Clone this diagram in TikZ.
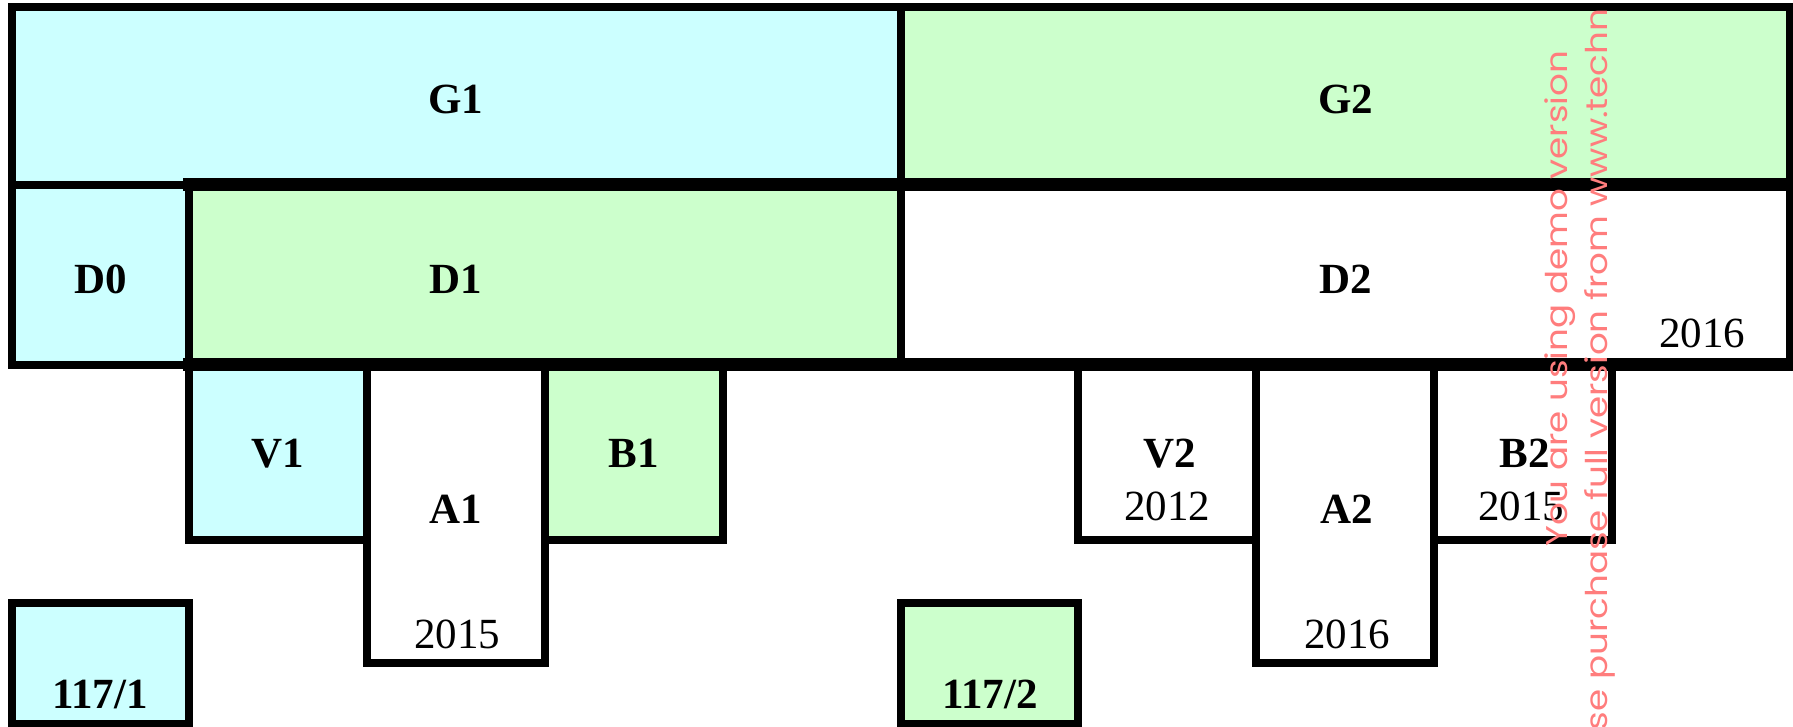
\documentclass[tikz,border=0pt]{standalone}
\usepackage{fontspec}
\setmainfont{Liberation Serif}
\newfontfamily\wmfont{Poppins}
\definecolor{cyanbox}{RGB}{204,255,255}
\definecolor{greenbox}{RGB}{204,255,204}
\definecolor{wmred}{RGB}{255,125,125}
\newcommand\wmstretch[1]{\scalebox{1.19}[1]{#1}}
\begin{document}
\begin{tikzpicture}[x=1pt,y=-1pt,
  box/.style={draw=black, line width=8pt, rectangle, inner sep=0pt, outer sep=0pt},
  lbl/.style={font=\fontsize{43}{50}\selectfont\bfseries, inner sep=0pt, anchor=base},
  yr/.style={font=\fontsize{43}{50}\selectfont, inner sep=0pt, anchor=base},
  wm/.style={font=\wmfont\fontsize{30}{36}\selectfont, text=wmred, rotate=90, anchor=base west, inner sep=0pt},
  seam/.style={line width=13pt, line cap=rect}]
\useasboundingbox (0,0) rectangle (1793,726);
% top row
\node[box, fill=cyanbox,  minimum width=889pt, minimum height=177.5pt] (G1) at (456,95.75) {};
\node[box, fill=greenbox, minimum width=889pt, minimum height=177.5pt] (G2) at (1345,95.75) {};
% second row
\node[box, fill=cyanbox,  minimum width=177.5pt, minimum height=180pt] (D0) at (100.25,274.5) {};
\node[box, fill=greenbox, minimum width=711.5pt, minimum height=180pt] (D1) at (544.75,274.5) {};
\node[box, fill=white,    minimum width=889pt,   minimum height=180pt] (D2) at (1345,274.5) {};
% third row
\node[box, fill=cyanbox,  minimum width=178pt,   minimum height=175.5pt] (V1) at (278,452.25) {};
\node[box, fill=white,    minimum width=178pt,   minimum height=298pt]   (A1) at (456,513.5) {};
\node[box, fill=greenbox, minimum width=177.5pt, minimum height=175.5pt] (B1) at (633.75,452.25) {};
\node[box, fill=white,    minimum width=178pt,   minimum height=175.5pt] (V2) at (1167,452.25) {};
\node[box, fill=white,    minimum width=178pt,   minimum height=298pt]   (A2) at (1345,513.5) {};
\node[box, fill=white,    minimum width=178pt,   minimum height=175.5pt] (B2) at (1523,452.25) {};
% bottom boxes
\node[box, fill=cyanbox,  minimum width=177.5pt, minimum height=121pt] (P1) at (100.25,663.5) {};
\node[box, fill=greenbox, minimum width=177.5pt, minimum height=121pt] (P2) at (989.25,663.5) {};
% heavier seams
\draw[seam] (D1.north west) -- (D2.north east);
\draw[seam] (D1.south west) -- (D2.south east);
% labels
\node[lbl] (tG1) at (456,113) {G1};
\node[lbl] (tG2) at (1346,113) {G2};
\node[lbl] (tD0) at (100.5,293) {D0};
\node[lbl] (tD1) at (456,293) {D1};
\node[lbl] (tD2) at (1346,293) {D2};
\node[yr]  (yD2) at (1702,347) {2016};
\node[lbl] (tV1) at (278,467) {V1};
\node[lbl] (tB1) at (634,467) {B1};
\node[lbl] (tA1) at (456,523) {A1};
\node[yr]  (yA1) at (457,648) {2015};
\node[lbl] (tV2) at (1170,467) {V2};
\node[yr]  (yV2) at (1167,520) {2012};
\node[lbl] (tA2) at (1347,523) {A2};
\node[yr]  (yA2) at (1347,648) {2016};
\node[lbl] (tB2) at (1525,467) {B2};
\node[yr]  (yB2) at (1521,520) {2015};
\node[lbl] (tP1) at (100,708) {117/1};
\node[lbl] (tP2) at (990,708) {117/2};
% watermark
\begin{scope}
\clip (0,0) rectangle (1793,726);
\node[wm] (wm1) at (1567,547) {\wmstretch{You are using demo version}};
\node[wm] (wm2) at (1607,806) {\wmstretch{Please purchase full version from www.techn}};
\end{scope}
\end{tikzpicture}
\end{document}
